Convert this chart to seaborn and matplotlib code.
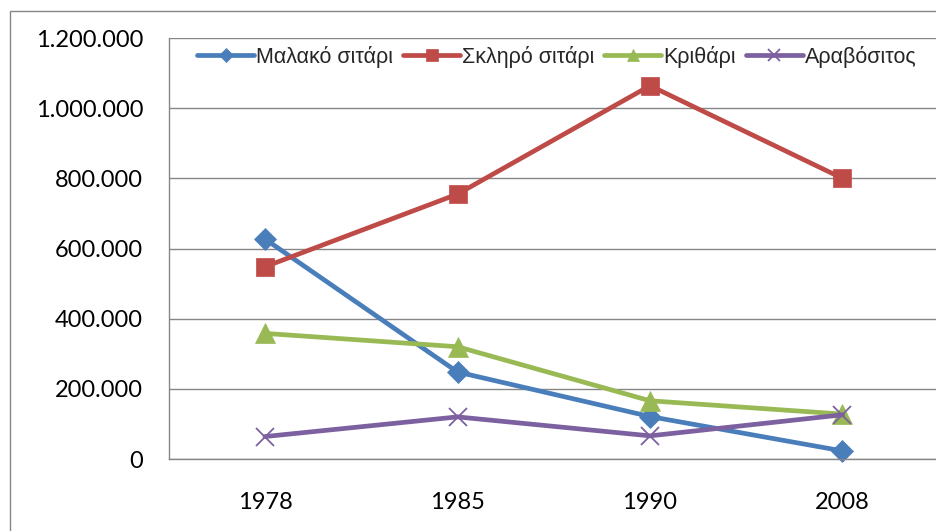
import matplotlib
matplotlib.use("Agg")
import matplotlib.pyplot as plt
import matplotlib.ticker as mticker
from matplotlib.patches import Rectangle
from matplotlib.lines import Line2D
import seaborn as sns
import pandas as pd

years = ["1978", "1985", "1990", "2008"]
series_names = ["Μαλακό σιτάρι", "Σκληρό σιτάρι", "Κριθάρι", "Αραβόσιτος"]
malako = [627000, 248000, 121000, 23000]
skliro = [548000, 755000, 1064000, 800000]
krithari = [358000, 320000, 166000, 128000]
aravositos = [64000, 120000, 66000, 126000]
yticks = [0, 200000, 400000, 600000, 800000, 1000000, 1200000]

colors = ["#4A7EBB", "#BE4B48", "#98B954", "#7D60A0"]
markers = ["D", "s", "^", "x"]
sizes = {"D": 11, "s": 13.5, "^": 14, "x": 13}

sns.set_style("white")
plt.rcParams["font.family"] = ["Lato", "DejaVu Sans"]

W, H = 936, 531
fig = plt.figure(figsize=(W / 100, H / 100), dpi=100)
ax = fig.add_axes([168.75 / W, 1 - 459 / H, 770 / W, (459 - 38) / H])

for name, vals, c, m in zip(series_names, [malako, skliro, krithari, aravositos], colors, markers):
    d = pd.DataFrame({"idx": range(len(years)), "value": vals})
    sns.lineplot(data=d, x="idx", y="value", color=c, marker=m, markersize=sizes[m],
                 markeredgecolor=c, markerfacecolor=c,
                 markeredgewidth=1.3 if m == "x" else 0.5,
                 linewidth=3.4, ax=ax, clip_on=False)

gray = "#868686"
ax.set_xlim(-0.5, 3.5)
ax.set_ylim(0, 1200000)
ax.set_yticks(yticks)
ax.yaxis.set_major_formatter(mticker.FuncFormatter(lambda v, p: f"{int(v):,}".replace(",", ".")))
ax.set_xticks(range(len(years)))
ax.set_xticklabels(years)
ax.set_xticks([-0.5, 0.5, 1.5, 2.5, 3.5], minor=True)
ax.tick_params(axis="x", which="major", length=0, pad=24, labelsize=17, labelcolor="black")
ax.tick_params(axis="x", which="minor", length=6, width=1, color=gray, direction="out")
ax.tick_params(axis="y", which="major", length=6.5, width=1, color=gray, direction="out",
               pad=12, labelsize=17, labelcolor="black")
ax.set_xlabel("")
ax.set_ylabel("")
ax.grid(axis="y", color=gray, linewidth=1.0)
ax.set_axisbelow(True)
for s in ["top", "right"]:
    ax.spines[s].set_visible(False)
for s in ["left", "bottom"]:
    ax.spines[s].set_color(gray)
    ax.spines[s].set_linewidth(1.0)

fig.patches.append(Rectangle((10 / W, -0.2), 1.5, 1.2 - 11 / H, transform=fig.transFigure,
                             fill=False, edgecolor=gray, linewidth=1.0))

handles = [Line2D([], [], color=c, marker=m, linewidth=3.4,
                  markersize=sizes[m] * 0.65, markeredgewidth=1.3 if m == "x" else 0.5,
                  markerfacecolor=c, markeredgecolor=c)
           for c, m in zip(colors, markers)]
leg = fig.legend(handles, series_names, loc="center", bbox_to_anchor=(557 / W, 1 - 56.5 / H),
                 ncol=4, frameon=False, handlelength=2.65, handletextpad=0.1,
                 columnspacing=0.45, prop={"family": ["Liberation Sans", "DejaVu Sans"], "size": 15.5})

fig.savefig("out.png", dpi=100)
